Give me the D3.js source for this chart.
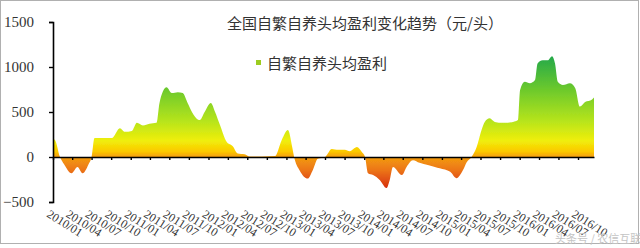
<!DOCTYPE html>
<html>
<head>
<meta charset="utf-8">
<script src="https://cdn.jsdelivr.net/npm/d3@7"></script>
<style>
body { margin: 0; background: #fff; }
.tick text { font-family: "Liberation Serif", "DejaVu Serif", serif; fill: #333; }
.title, .legend { font-family: "Noto Sans CJK SC", sans-serif; fill: #333; }
</style>
</head>
<body>
<svg width="640" height="248"></svg>
<script>
var WIDTH = 640;
var HEIGHT = 248;

var titleText = "全国自繁自养头均盈利变化趋势（元/头）";
var seriesName = "自繁自养头均盈利";
var yTicks = [-500, 0, 500, 1000, 1500];

var dates = [
	"2010-01-01", "2010-01-10", "2010-02-03", "2010-02-22", "2010-03-29", "2010-04-26", "2010-05-20", "2010-06-17",
	"2010-07-01", "2010-07-15", "2010-10-04", "2010-11-11", "2010-12-04", "2011-01-06", "2011-01-30", "2011-02-27",
	"2011-03-30", "2011-05-02", "2011-05-16", "2011-06-18", "2011-07-13", "2011-08-10", "2011-09-02", "2011-09-25",
	"2011-10-18", "2011-11-21", "2011-12-14", "2012-01-12", "2012-02-01", "2012-02-24", "2012-03-26", "2012-04-24",
	"2012-05-17", "2012-06-19", "2012-07-12", "2012-09-08", "2012-11-08", "2012-12-10", "2013-01-08", "2013-01-28",
	"2013-02-06", "2013-03-04", "2013-04-11", "2013-05-04", "2013-05-28", "2013-07-01", "2013-08-02", "2013-09-01",
	"2013-10-02", "2013-10-25", "2013-11-28", "2013-12-21", "2014-01-05", "2014-01-19", "2014-02-12", "2014-03-15",
	"2014-04-16", "2014-05-01", "2014-05-16", "2014-06-27", "2014-07-19", "2014-08-18", "2014-09-18", "2014-10-27",
	"2014-11-29", "2014-12-22", "2015-02-09", "2015-03-10", "2015-04-10", "2015-04-28", "2015-05-20", "2015-06-13",
	"2015-07-06", "2015-07-21", "2015-08-13", "2015-09-06", "2015-10-13", "2015-12-01", "2015-12-24", "2016-01-03",
	"2016-01-25", "2016-02-18", "2016-03-13", "2016-03-25", "2016-04-18", "2016-05-12", "2016-06-01", "2016-06-15",
	"2016-06-28", "2016-07-22", "2016-08-24", "2016-09-18", "2016-10-10", "2016-11-03", "2016-12-06", "2016-12-15"
];

var profit = [
	200, 190, 0, -80, -180, -110, -180, -80,
	0, 210, 210, 320, 280, 290, 380, 350,
	370, 380, 600, 775, 710, 720, 710, 600,
	490, 410, 500, 600, 500, 355, 170, 120,
	40, 30, 5, 5, 10, 190, 300, 110,
	0, -150, -240, -150, -20, 0, 90, 80,
	80, 65, 110, 55, 0, -180, -200, -255,
	-345, -255, -110, -200, -110, -35, -65, -90,
	-110, -125, -165, -235, -145, -55, 0, 110,
	300, 390, 430, 390, 380, 390, 410, 745,
	835, 820, 855, 1040, 1075, 1075, 1120, 1040,
	835, 800, 820, 765, 560, 610, 640, 660
];

var gradStops = [
	{v: 1150, c: "#1ea64c"},
	{v: 750, c: "#6cc92c"},
	{v: 400, c: "#b6e41c"},
	{v: 180, c: "#f0ee0a"},
	{v: 60, c: "#fcc800"},
	{v: 0, c: "#f39c10"},
	{v: -150, c: "#ec7414"},
	{v: -350, c: "#d62e10"}
];

var parse = d3.timeParse("%Y-%m-%d");
var data = dates.map(function(d, i){ return {date: parse(d), value: profit[i]}; });

var x = d3.scaleTime()
	.domain([parse("2010-01-01"), parse("2016-12-15")])
	.range([53, 594]);

var y = d3.scaleLinear()
	.domain([-500, 1500])
	.range([202, 22]);

var svg = d3.select("svg");

// frame
svg.append("rect")
	.attr("x", 0.5).attr("y", 0.5)
	.attr("width", WIDTH - 2).attr("height", HEIGHT - 5)
	.attr("fill", "none")
	.attr("stroke", "#b0b0b0");

var defs = svg.append("defs");
var grad = defs.append("linearGradient")
	.attr("id", "fillGrad")
	.attr("gradientUnits", "userSpaceOnUse")
	.attr("x1", 0).attr("x2", 0)
	.attr("y1", y(1150)).attr("y2", y(-350));
grad.selectAll("stop")
	.data(gradStops)
	.enter().append("stop")
	.attr("offset", function(d){ return (y(d.v) - y(1150)) / (y(-350) - y(1150)); })
	.attr("stop-color", function(d){ return d.c; });

defs.append("filter")
	.attr("id", "soft")
	.append("feGaussianBlur")
	.attr("stdDeviation", 0.6);

var area = d3.area()
	.x(function(d){ return x(d.date); })
	.y0(y(0))
	.y1(function(d){ return y(d.value); })
	.curve(d3.curveMonotoneX);

svg.append("path")
	.datum(data)
	.attr("d", area)
	.attr("fill", "url(#fillGrad)")
	.attr("filter", "url(#soft)");

// y axis
var yAxis = svg.append("g")
	.attr("transform", "translate(53,0)")
	.call(d3.axisLeft(y).tickValues(yTicks).tickSize(4).tickPadding(15).tickFormat(d3.format("d")));
yAxis.selectAll("text").style("font-size", "15px");
yAxis.select(".domain").attr("stroke-width", 1.6);
yAxis.selectAll(".tick line").attr("stroke-width", 1.4);

// x axis on zero line
var quarters = d3.timeMonth.every(3).range(parse("2010-01-01"), parse("2016-11-01"));
var xAxis = svg.append("g")
	.attr("transform", "translate(0," + y(0) + ")")
	.call(d3.axisBottom(x).tickValues(quarters).tickSize(3).tickSizeOuter(0).tickFormat(""));
xAxis.select(".domain").attr("stroke-width", 1.6);
xAxis.selectAll(".tick line").attr("stroke-width", 1.4);

// x labels below plot
var xLabels = svg.append("g")
	.attr("transform", "translate(0,209)")
	.call(d3.axisBottom(x).tickValues(quarters).tickSize(0).tickFormat(d3.timeFormat("%Y/%m")));
xLabels.select(".domain").remove();
xLabels.selectAll("text")
	.style("font-size", "12px")
	.attr("fill", "#444")
	.attr("text-anchor", "start")
	.attr("x", 0).attr("y", 0).attr("dy", "0.71em")
	.attr("transform", "translate(-3,0) rotate(32)");

svg.append("text")
	.attr("class", "title")
	.attr("x", 227).attr("y", 29)
	.style("font-size", "15px")
	.text(titleText);

svg.append("rect")
	.attr("x", 256).attr("y", 60)
	.attr("width", 5).attr("height", 5)
	.attr("fill", "#9ccc20");
svg.append("text")
	.attr("class", "legend")
	.attr("x", 267).attr("y", 69)
	.style("font-size", "15px")
	.text(seriesName);

svg.append("text")
	.attr("x", 555).attr("y", 243)
	.style("font-family", "'Noto Sans CJK SC', sans-serif")
	.style("font-size", "11px")
	.attr("fill", "#c4c4c4")
	.text("头条号 / 农信互联");
</script>
</body>
</html>
